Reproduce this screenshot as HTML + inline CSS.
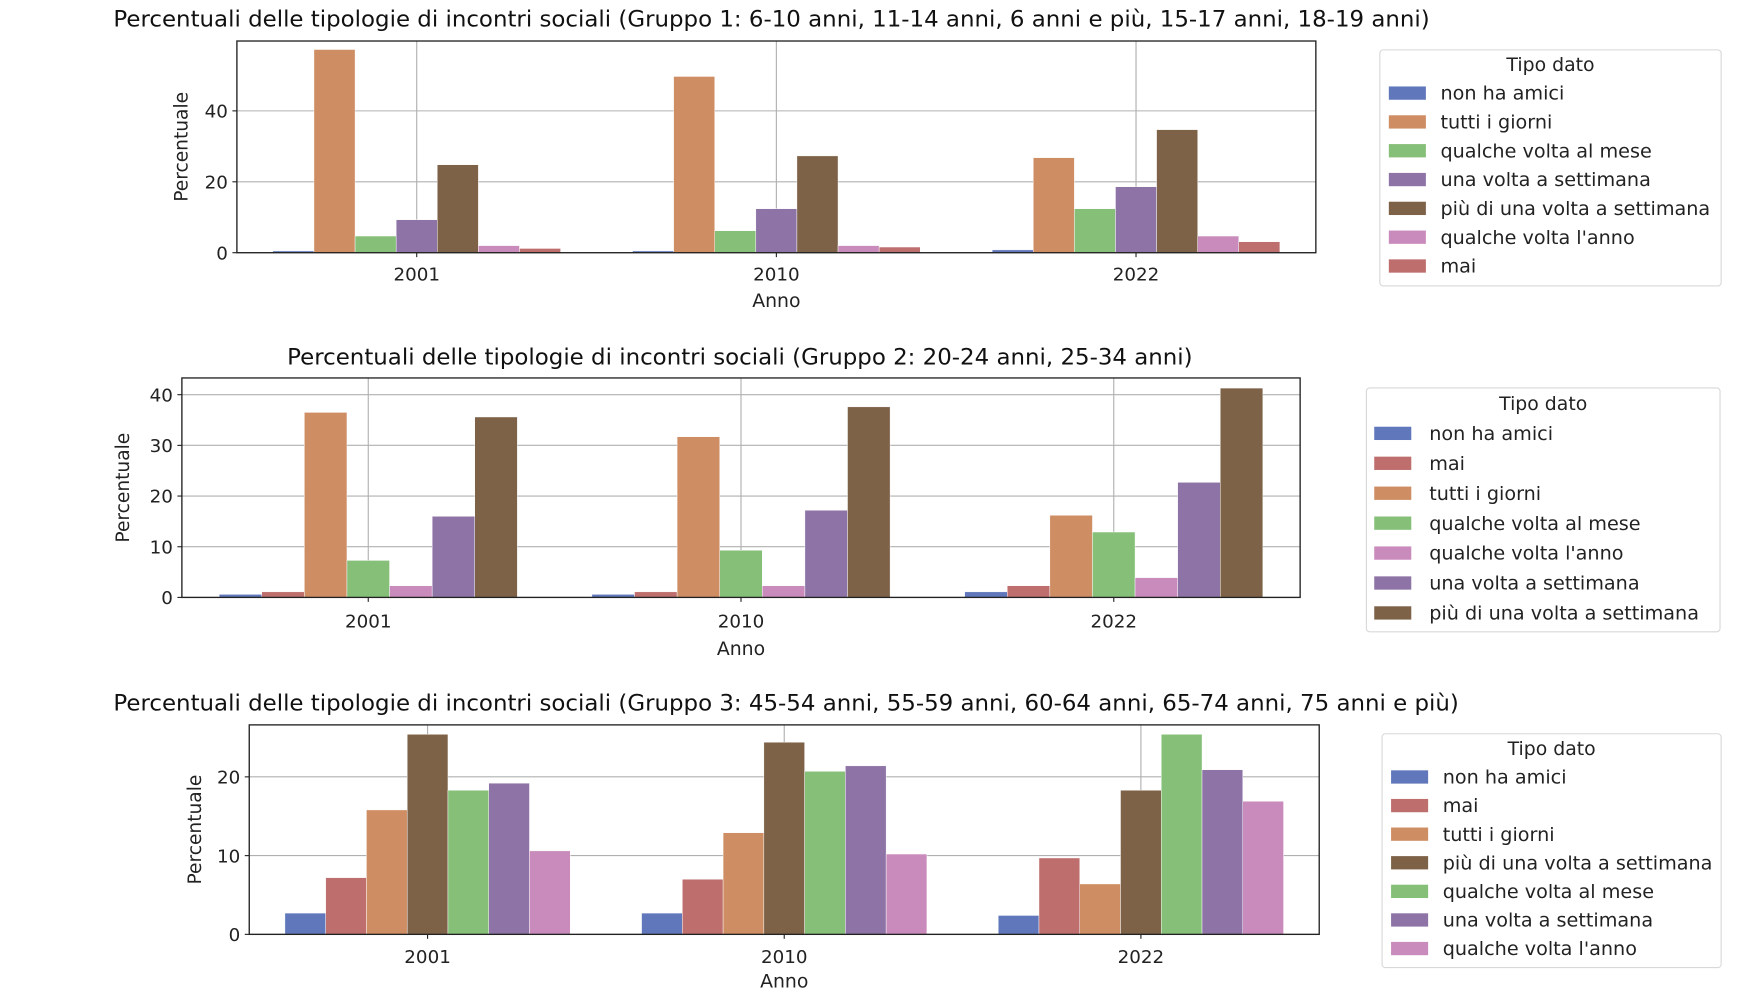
<!DOCTYPE html>
<html><head><meta charset="utf-8">
<style>
html,body{margin:0;padding:0;background:#fff;}
svg{display:block;font-family:"DejaVu Sans","Liberation Sans",sans-serif;}
</style></head>
<body>
<svg id="root" width="1738" height="992" viewBox="0 0 1548 895" preserveAspectRatio="none" xmlns="http://www.w3.org/2000/svg"></svg>
<script>
const years = ["2001", "2010", "2022"];
const series1 = ["non ha amici","tutti i giorni","qualche volta al mese","una volta a settimana","più di una volta a settimana","qualche volta l'anno","mai"];
const values1 = [[0.5,57.3,4.7,9.3,24.8,2.0,1.2],[0.5,49.7,6.2,12.4,27.3,2.0,1.6],[0.8,26.8,12.4,18.6,34.7,4.7,3.1]];
const yTicks1 = [0,20,40];
const series2 = ["non ha amici","mai","tutti i giorni","qualche volta al mese","qualche volta l'anno","una volta a settimana","più di una volta a settimana"];
const values2 = [[0.6,1.1,36.5,7.3,2.3,16.0,35.6],[0.6,1.1,31.7,9.3,2.3,17.2,37.6],[1.1,2.3,16.2,12.9,3.9,22.7,41.3]];
const yTicks2 = [0,10,20,30,40];
const series3 = ["non ha amici","mai","tutti i giorni","più di una volta a settimana","qualche volta al mese","una volta a settimana","qualche volta l'anno"];
const values3 = [[2.7,7.2,15.8,25.4,18.3,19.2,10.6],[2.7,7.0,12.9,24.4,20.7,21.4,10.2],[2.4,9.7,6.4,18.3,25.4,20.9,16.9]];
const yTicks3 = [0,10,20];

const colors = {"non ha amici":"#6078bb","tutti i giorni":"#ce8d63","qualche volta al mese":"#85bf78","una volta a settimana":"#8e74a6","più di una volta a settimana":"#7d6248","qualche volta l'anno":"#c98bbb","mai":"#be6e6d"};
const NS="http://www.w3.org/2000/svg";
const root=document.getElementById('root');
function mk(tag,attrs,parent,text){const e=document.createElementNS(NS,tag);for(const k in attrs)e.setAttribute(k,attrs[k]);if(text!==undefined)e.textContent=text;(parent||root).appendChild(e);return e;}

const charts=[
 {series:series1,values:values1,ticks:yTicks1,x0:211,x1:1172,y0:228,y1:37,ymax:59.7,
  title:"Percentuali delle tipologie di incontri sociali (Gruppo 1: 6-10 anni, 11-14 anni, 6 anni e più, 15-17 anni, 18-19 anni)",tx:101,ty:24,anchor:"start",ylx:167,tly:247,axy:277,
  leg:{x:1229,y:45,w:304,h:213,ty:64,ey:84,dy:26,px:1237,tx:1283}},
 {series:series2,values:values2,ticks:yTicks2,x0:162,x1:1158,y0:539,y1:341,ymax:43.3,
  title:"Percentuali delle tipologie di incontri sociali (Gruppo 2: 20-24 anni, 25-34 anni)",tx:659,ty:329,anchor:"middle",ylx:115,tly:560,axy:591,
  leg:{x:1217,y:350,w:315,h:220,ty:370,ey:391,dy:27,px:1224,tx:1273}},
 {series:series3,values:values3,ticks:yTicks3,x0:222,x1:1175,y0:843,y1:654,ymax:26.6,
  title:"Percentuali delle tipologie di incontri sociali (Gruppo 3: 45-54 anni, 55-59 anni, 60-64 anni, 65-74 anni, 75 anni e più)",tx:101,ty:641,anchor:"start",ylx:179,tly:863,axy:891,
  leg:{x:1231,y:662,w:302,h:211,ty:681,ey:701,dy:25.8,px:1239,tx:1285}}
];

charts.forEach((c,ci)=>{
  const g=mk('g',{});
  
  
  const n=years.length, step=(c.x1-c.x0)/n;
  const xc=i=>c.x0+step*(i+0.5);
  const ys=v=>c.y0-(v/c.ymax)*(c.y0-c.y1);
  const t=mk('text',{x:c.tx,y:c.ty,'font-size':20.4,'text-anchor':c.anchor,fill:'#111'},g,c.title);
  
  
  c.ticks.forEach(v=>{
    mk('line',{x1:c.x0,x2:c.x1,y1:ys(v),y2:ys(v),stroke:'#b0b0b0','stroke-width':1},g);
    mk('line',{x1:c.x0-4,x2:c.x0,y1:ys(v),y2:ys(v),stroke:'#222','stroke-width':1},g);
    const tl=mk('text',{x:c.x0-8,y:ys(v)+6,'font-size':16.3,'text-anchor':'end',fill:'#222'},g,String(v));
    
    
  });
  years.forEach((y,i)=>{
    mk('line',{x1:xc(i),x2:xc(i),y1:c.y1,y2:c.y0,stroke:'#b0b0b0','stroke-width':1},g);
    mk('line',{x1:xc(i),x2:xc(i),y1:c.y0,y2:c.y0+4,stroke:'#222','stroke-width':1},g);
    const tl=mk('text',{x:xc(i),y:c.tly+6,'font-size':16.3,'text-anchor':'middle',fill:'#222'},g,y);
    
    
  });
  const k=c.series.length, bw=step*0.8/k;
  c.values.forEach((row,i)=>{
    row.forEach((v,j)=>{
      const x=xc(i)-step*0.4+j*bw;
      const r=mk('rect',{x:x,y:ys(v),width:bw,height:c.y0-ys(v),fill:colors[c.series[j]],stroke:'#fff','stroke-width':0.4},g);
      
      
    });
  });
  const fr=mk('rect',{x:c.x0,y:c.y1,width:c.x1-c.x0,height:c.y0-c.y1,fill:'none',stroke:'#222','stroke-width':1.2},g);
  
  
  const yl=mk('text',{x:0,y:0,'font-size':16.8,'text-anchor':'middle',fill:'#222',transform:`translate(${c.ylx},${(c.y0+c.y1)/2}) rotate(-90)`},g,'Percentuale');
  
  
  const xl=mk('text',{x:(c.x0+c.x1)/2,y:c.axy,'font-size':16.8,'text-anchor':'middle',fill:'#222'},g,'Anno');
  
  
  const L=c.leg;
  const lg=mk('g',{},g);
  
  
  mk('rect',{x:L.x,y:L.y,width:L.w,height:L.h,rx:3,fill:'#fff',stroke:'#d8d8d8','stroke-width':1},lg);
  mk('text',{x:L.x+L.w/2,y:L.ty,'font-size':16.8,'text-anchor':'middle',fill:'#222'},lg,'Tipo dato');
  c.series.forEach((s,j)=>{
    const ey=L.ey+j*L.dy;
    const le=mk('g',{},lg);
    
    
    mk('rect',{x:L.px,y:ey-6,width:33,height:12,fill:colors[s]},le);
    mk('text',{x:L.tx,y:ey+6,'font-size':17.1,fill:'#222'},le,s);
  });
});
</script>
</body></html>
